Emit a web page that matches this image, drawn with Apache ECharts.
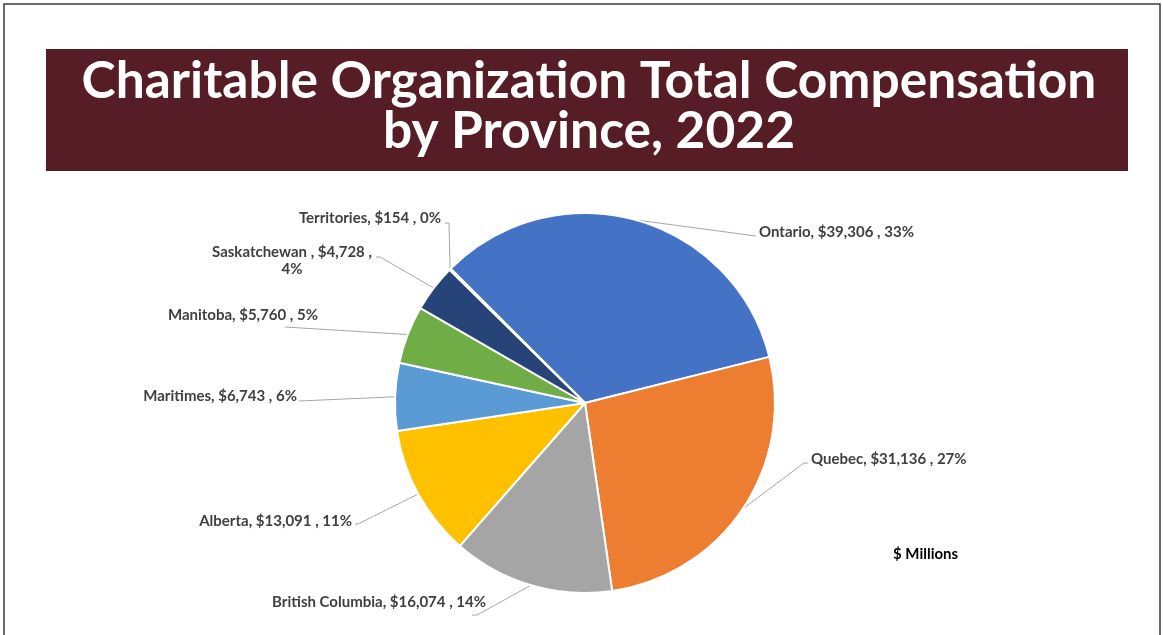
<!DOCTYPE html>
<html>
<head>
<meta charset="utf-8">
<script src="https://cdn.jsdelivr.net/npm/echarts@6/dist/echarts.min.js"></script>
<style>
  html, body { margin: 0; padding: 0; background: #fff; }
  #chart { width: 1163px; height: 635px; }
</style>
</head>
<body>
<div id="chart"></div>
<script>
// Provinces and total compensation ($ millions), 2022
const provinces = ['Ontario', 'Quebec', 'British Columbia', 'Alberta', 'Maritimes', 'Manitoba', 'Saskatchewan', 'Territories'];
const compensation = [39306, 31136, 16074, 13091, 6743, 5760, 4728, 154];
const sliceColors = ['#4472C4', '#ED7D31', '#A5A5A5', '#FFC000', '#5B9BD5', '#70AD47', '#264478', '#9E480E'];

// Callout placement for each label: text anchor, alignment, and the elbow points of its leader line
const calloutLayout = [
  { x: 759, y: 232, align: 'left',   line: [[756, 236]] },
  { x: 811, y: 459, align: 'left',   line: [[804, 463], [808, 463]] },
  { x: 486, y: 602, align: 'right',  line: [[477, 615], [472, 615]] },
  { x: 352, y: 521, align: 'right',  line: [[358, 524], [355, 524]] },
  { x: 297, y: 396, align: 'right',  line: [[299, 401]] },
  { x: 318, y: 315, align: 'right',  line: [[285, 327]] },
  { x: 292, y: 261, align: 'center', line: [[380, 257], [376, 257]] },
  { x: 441, y: 218, align: 'right',  line: [[449, 223], [445, 223]] }
];

const chart = echarts.init(document.getElementById('chart'));

const fmt = v => '$' + v.toLocaleString('en-US');

chart.setOption({
  animation: false,
  graphic: [
    { type: 'rect', shape: { x: 4, y: 4, width: 1156, height: 640 }, style: { fill: 'none', stroke: '#3a3a3a', lineWidth: 1.5 } },
    { type: 'rect', shape: { x: 46, y: 49, width: 1082, height: 122 }, style: { fill: '#561D27' } },
    { type: 'text', x: 589, y: 56,
      style: { text: 'Charitable Organization Total Compensation\nby Province, 2022', fill: '#fff',
               font: 'bold 51.5px Lato', align: 'center', verticalAlign: 'top', lineHeight: 50 } },
    { type: 'text', left: 893, top: 547, style: { text: '$ Millions', fill: '#000', font: 'bold 15px Lato' } }
  ],
  series: [{
    type: 'pie',
    center: [585, 403],
    radius: 190,
    startAngle: 135,
    clockwise: true,
    percentPrecision: 0,
    itemStyle: { borderColor: '#fff', borderWidth: 2 },
    label: {
      show: true,
      color: '#404040',
      fontFamily: 'Lato',
      fontWeight: 'bold',
      fontSize: 15,
      lineHeight: 17,
      formatter: p => p.name === 'Saskatchewan'
        ? p.name + ' , ' + fmt(p.value) + ' ,\n' + p.percent + '%'
        : p.name + ', ' + fmt(p.value) + ' , ' + p.percent + '%'
    },
    labelLine: { show: true, lineStyle: { color: '#A6A6A6', width: 1 } },
    labelLayout: params => {
      const c = calloutLayout[params.dataIndex];
      const start = params.labelLinePoints ? params.labelLinePoints[0] : null;
      const out = { x: c.x, y: c.y, align: c.align, verticalAlign: 'middle' };
      if (start) out.labelLinePoints = [start].concat(c.line).slice(0, 3);
      return out;
    },
    data: provinces.map((n, i) => ({ name: n, value: compensation[i], itemStyle: { color: sliceColors[i] } }))
  }]
});
</script>
</body>
</html>
